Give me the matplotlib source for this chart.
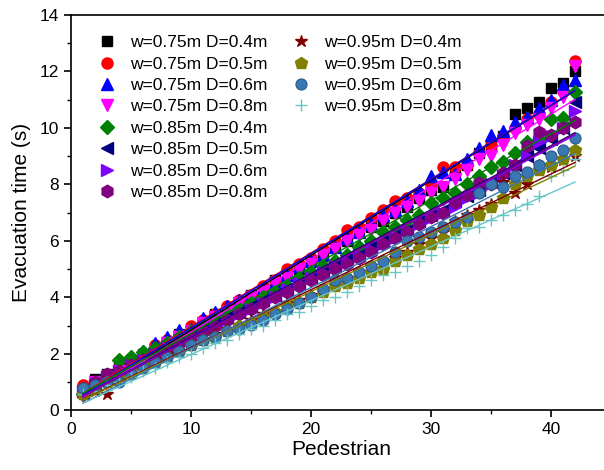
import numpy as np
import matplotlib
matplotlib.use("Agg")
import matplotlib.pyplot as plt
from matplotlib.lines import Line2D

plt.rcParams['font.family'] = ['Liberation Sans', 'DejaVu Sans']

pedestrian = np.arange(1, 43)

labels = ["w=0.75m D=0.4m", "w=0.75m D=0.5m", "w=0.75m D=0.6m", "w=0.75m D=0.8m",
          "w=0.85m D=0.4m", "w=0.85m D=0.5m", "w=0.85m D=0.6m", "w=0.85m D=0.8m",
          "w=0.95m D=0.4m", "w=0.95m D=0.5m", "w=0.95m D=0.6m", "w=0.95m D=0.8m"]

w075_d04 = [0.7, 1.1, 1.3, 1.5, 1.8, 2.0, 2.2, 2.4, 2.7, 2.9, 3.1, 3.4, 3.6, 3.8,
            4.1, 4.3, 4.6, 4.8, 5.0, 5.3, 5.5, 5.8, 6.0, 6.3, 6.5, 6.7, 7.0, 7.2,
            7.5, 7.8, 7.9, 8.4, 8.7, 9.1, 9.4, 9.7, 10.5, 10.7, 10.9, 11.4, 11.6, 12.0]
w075_d05 = [0.9, 1.0, 1.3, 1.5, 1.8, 2.0, 2.3, 2.5, 2.7, 3.0, 3.2, 3.4, 3.7, 3.9,
            4.1, 4.4, 4.6, 5.0, 5.2, 5.4, 5.7, 6.0, 6.4, 6.5, 6.8, 7.1, 7.4, 7.5,
            7.7, 8.0, 8.6, 8.6, 8.7, 9.1, 9.4, 9.7, 10.0, 10.3, 10.5, 10.9, 11.3, 12.35]
w075_d06 = [0.7, 1.0, 1.3, 1.5, 1.8, 2.1, 2.4, 2.6, 2.85, 2.9, 3.27, 3.5, 3.7, 3.9,
            4.1, 4.3, 4.5, 4.8, 5.1, 5.3, 5.5, 5.8, 6.1, 6.3, 6.6, 6.9, 7.1, 7.4,
            7.8, 8.3, 8.45, 8.35, 8.9, 9.3, 9.75, 9.9, 10.2, 10.4, 10.7, 11.0, 11.5, 11.7]
w075_d08 = [0.5, 1.0, 1.2, 1.4, 1.7, 1.9, 2.1, 2.4, 2.6, 2.8, 3.1, 3.3, 3.5, 3.8,
            4.0, 4.2, 4.5, 4.7, 5.0, 5.2, 5.5, 5.7, 6.0, 6.2, 6.4, 6.7, 7.0, 7.2,
            7.4, 7.7, 7.9, 8.2, 8.5, 8.9, 9.0, 9.4, 9.8, 10.1, 10.3, 10.7, 11.1, 12.2]
w085_d04 = [0.6, 0.9, 1.2, 1.8, 1.9, 2.08, 2.2, 2.4, 2.6, 2.8, 3.0, 3.2, 3.4, 3.6,
            3.8, 4.0, 4.2, 4.4, 4.7, 4.9, 5.1, 5.3, 5.5, 5.8, 6.0, 6.33, 6.5, 6.74,
            6.92, 7.34, 7.5, 7.7, 8.0, 8.28, 8.6, 8.8, 9.1, 9.5, 9.57, 10.3, 10.35, 11.25]
w085_d05 = [0.6, 0.9, 1.1, 1.3, 1.6, 1.8, 2.0, 2.2, 2.5, 2.7, 2.9, 3.1, 3.3, 3.5,
            3.7, 3.9, 4.1, 4.3, 4.5, 4.7, 4.9, 5.1, 5.4, 5.5, 5.8, 6.0, 6.2, 6.4,
            6.7, 6.9, 7.1, 7.4, 7.6, 7.8, 8.1, 8.4, 8.7, 9.0, 9.3, 9.6, 10.0, 10.9]
w085_d06 = [0.7, 0.9, 1.2, 1.4, 1.6, 1.8, 2.0, 2.2, 2.4, 2.6, 2.8, 3.0, 3.2, 3.4,
            3.6, 3.8, 4.0, 4.3, 4.5, 4.7, 4.9, 5.1, 5.3, 5.5, 5.7, 5.9, 6.1, 6.4,
            6.6, 6.8, 7.0, 7.2, 7.5, 7.7, 8.0, 8.3, 8.7, 9.0, 9.5, 9.7, 10.0, 10.6]
w085_d08 = [0.6, 1.0, 1.3, 1.4, 1.6, 1.8, 2.0, 2.2, 2.4, 2.6, 2.8, 3.0, 3.2, 3.4,
            3.6, 3.8, 4.0, 4.2, 4.4, 4.6, 4.8, 5.0, 5.2, 5.4, 5.6, 5.9, 6.1, 6.3,
            6.6, 6.86, 7.0, 7.39, 7.63, 8.05, 8.0, 8.4, 8.7, 9.34, 9.87, 9.75, 10.0, 10.2]
w095_d04 = [0.6, 0.7, 0.6, 1.2, 1.4, 1.6, 1.8, 2.0, 2.1, 2.3, 2.5, 2.7, 2.9, 3.0,
            3.2, 3.4, 3.5, 3.8, 3.9, 4.1, 4.3, 4.5, 4.7, 4.9, 5.1, 5.3, 5.4, 5.6,
            5.9, 6.1, 6.3, 6.7, 6.9, 7.1, 7.3, 8.1, 7.7, 8.0, 8.7, 8.6, 8.87, 9.0]
w095_d05 = [0.6, 0.8, 1.0, 1.2, 1.4, 1.6, 1.7, 1.9, 2.1, 2.3, 2.5, 2.6, 2.8, 3.0,
            3.1, 3.3, 3.5, 3.7, 3.8, 4.0, 4.2, 4.4, 4.5, 4.7, 4.9, 5.0, 5.3, 5.5,
            5.7, 5.9, 6.1, 6.4, 6.7, 6.9, 7.2, 7.5, 8.0, 8.3, 8.5, 8.7, 8.9, 9.2]
w095_d06 = [0.8, 0.9, 1.0, 1.0, 1.3, 1.5, 1.7, 1.9, 2.1, 2.3, 2.5, 2.6, 2.8, 2.9,
            3.03, 3.2, 3.4, 3.6, 3.8, 4.0, 4.3, 4.6, 4.7, 4.9, 5.1, 5.3, 5.6, 5.98,
            6.15, 6.3, 6.5, 6.68, 6.86, 7.7, 8.0, 7.9, 8.3, 8.45, 8.7, 9.0, 9.2, 9.65]
w095_d08 = [0.6, 0.7, 0.9, 1.0, 1.2, 1.4, 1.5, 1.7, 1.9, 2.0, 2.2, 2.4, 2.5, 2.7,
            2.9, 3.0, 3.2, 3.4, 3.5, 3.7, 3.9, 4.0, 4.2, 4.4, 4.6, 4.8, 4.9, 5.1,
            5.3, 5.5, 5.8, 6.1, 6.46, 6.5, 6.74, 6.9, 7.1, 7.3, 7.6, 8.3, 8.5, 8.9]

series = [w075_d04, w075_d05, w075_d06, w075_d08,
          w085_d04, w085_d05, w085_d06, w085_d08,
          w095_d04, w095_d05, w095_d06, w095_d08]

colors = ["black", "red", "blue", "magenta",
          "#008000", "#000080", "#7f00ff", "#800080",
          "#800000", "#808000", "#3a78b4", "#66c6c6"]
markers = ["s", "o", "^", "v", "D", "<", ">", "h", "*", "p", "o", "+"]
sizes = [7, 8, 8, 8, 7, 8, 8, 9, 9, 9, 8, 9]

fig = plt.figure(figsize=(6.04, 4.70), dpi=100)
ax = fig.add_axes([0.1175, 0.1266, 0.894, 0.842])

handles = []
for vals, lab, c, m, s in zip(series, labels, colors, markers, sizes):
    vals = np.array(vals)
    if m == "+":
        h, = ax.plot(pedestrian, vals, linestyle="none", marker=m, ms=s, color=c,
                     mew=1.0, label=lab)
    elif lab == "w=0.95m D=0.6m":
        h, = ax.plot(pedestrian, vals, linestyle="none", marker=m, ms=s, color=c,
                     mec="#2a5a8a", mew=0.8, label=lab)
    else:
        h, = ax.plot(pedestrian, vals, linestyle="none", marker=m, ms=s, color=c,
                     mec=c, label=lab)
    handles.append(h)

# linear fits
for vals, c in zip(series, colors):
    k, b = np.polyfit(pedestrian, vals, 1)
    ax.plot(pedestrian, k * pedestrian + b, color=c, lw=1.0)

ax.set_xlim(0, 45)
ax.set_ylim(0, 14)
ax.set_xticks([0, 10, 20, 30, 40])
ax.set_xticks([5, 15, 25, 35, 45], minor=True)
ax.set_yticks(np.arange(0, 15, 2))
ax.set_yticks(np.arange(1, 14, 2), minor=True)
ax.tick_params(which="major", direction="out", length=5, width=1.2, labelsize=12.5)
ax.tick_params(which="minor", direction="out", length=3, width=1.0)
for sp in ax.spines.values():
    sp.set_linewidth(1.2)
ax.spines["right"].set_visible(False)

ax.set_xlabel("Pedestrian", fontsize=15, labelpad=2)
ax.set_ylabel("Evacuation time (s)", fontsize=15, labelpad=6)

# 8 entries in the first column, 4 in the second
blank = Line2D([], [], linestyle="none")
leg_handles = handles + [blank] * 4
leg_labels = labels + [""] * 4
ax.legend(leg_handles, leg_labels, loc="upper left", bbox_to_anchor=(0.031, 0.975),
          ncol=2, frameon=False, fontsize=12.5, handlelength=1.0,
          handletextpad=0.85, columnspacing=1.4, labelspacing=0.36,
          borderaxespad=0.2)

plt.savefig("out.png", dpi=100)
